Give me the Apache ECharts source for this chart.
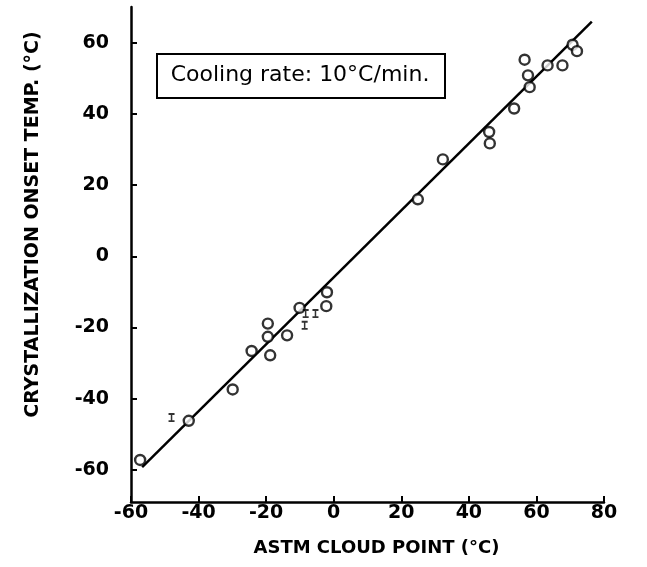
<!DOCTYPE html>
<html>
<head>
<meta charset="utf-8">
<script src="https://cdn.jsdelivr.net/npm/echarts@6/dist/echarts.min.js"></script>
<style>
html,body{margin:0;padding:0;background:#fff;}
#chart{width:647px;height:567px;}
</style>
</head>
<body>
<div id="chart"></div>
<script>
// Data
const circleX = [-57.3, -42.9, -29.9, -24.3, -18.8, -19.5, -19.5, -13.8, -10.1, -2.2, -2.0, 24.9, 32.3, 46.0, 46.2, 53.4, 58.0, 57.5, 56.5, 63.3, 67.7, 70.7, 72.0];
const circleY = [-57.2, -46.2, -37.4, -26.6, -27.8, -22.6, -18.9, -22.2, -14.5, -14.0, -10.1, 16.0, 27.2, 34.9, 31.7, 41.5, 47.5, 50.8, 55.2, 53.6, 53.6, 59.4, 57.6];
const barMarkX = [-48.0, -8.6, -8.3, -5.4];
const barMarkY = [-45.3, -19.4, -16.1, -16.1];
const fitX = [-56.7, 76.4];
const fitY = [-59.2, 65.9];
const xTitle = 'ASTM CLOUD POINT (°C)';
const yTitle = 'CRYSTALLIZATION ONSET TEMP. (°C)';
const noteText = 'Cooling rate: 10°C/min.';

const zip = (a, b) => a.map((v, i) => [v, b[i]]);
const font = 'DejaVu Sans';

const chart = echarts.init(document.getElementById('chart'), null, {renderer: 'canvas'});
chart.setOption({
  animation: false,
  backgroundColor: '#fff',
  grid: {left: 131, right: 43, top: 7, bottom: 65},
  xAxis: {
    type: 'value', min: -60, max: 80, interval: 20,
    name: xTitle, nameLocation: 'middle', nameGap: 37,
    nameTextStyle: {fontFamily: font, fontWeight: 'bold', fontSize: 18, color: '#000', padding: [0, 0, 0, 18]},
    axisLine: {show: true, onZero: false, lineStyle: {color: '#000', width: 2.5}},
    axisTick: {show: true, inside: true, length: 6, lineStyle: {color: '#000', width: 2}},
    axisLabel: {fontFamily: font, fontWeight: 'bold', fontSize: 19, color: '#000', margin: 2},
    splitLine: {show: false}
  },
  yAxis: {
    type: 'value', min: -69, max: 70, splitNumber: 7,
    name: yTitle, nameLocation: 'middle', nameGap: 88, nameRotate: 90,
    nameTextStyle: {fontFamily: font, fontWeight: 'bold', fontSize: 19, color: '#000', padding: [0, 0, 0, 60]},
    axisLine: {show: true, onZero: false, lineStyle: {color: '#000', width: 2.5}},
    axisTick: {show: true, inside: true, length: 6, lineStyle: {color: '#000', width: 2}},
    axisLabel: {fontFamily: font, fontWeight: 'bold', fontSize: 19, color: '#000', margin: 22, showMinLabel: false, showMaxLabel: false},
    splitLine: {show: false}
  },
  graphic: [
    {type: 'rect', left: 156, top: 53, shape: {width: 288, height: 44}, style: {fill: '#fff', stroke: '#000', lineWidth: 2}},
    {type: 'text', x: 300, y: 75, style: {text: noteText, fontFamily: font, fontSize: 22, fill: '#000', align: 'center', verticalAlign: 'middle'}}
  ],
  series: [
    {type: 'line', data: zip(fitX, fitY), showSymbol: false, symbol: 'none', lineStyle: {color: '#000', width: 2.5}, z: 2},
    {type: 'scatter', data: zip(circleX, circleY), symbol: 'circle', symbolSize: 10,
     itemStyle: {color: '#fff', borderColor: '#000', borderWidth: 2.4}, z: 3},
    {type: 'scatter', data: zip(barMarkX, barMarkY), symbol: 'path://M0,0h8v2h-3v6h3v2h-8v-2h3v-6h-3z', symbolSize: [6, 9],
     itemStyle: {color: '#000'}, z: 3}
  ]
});
</script>
</body>
</html>
